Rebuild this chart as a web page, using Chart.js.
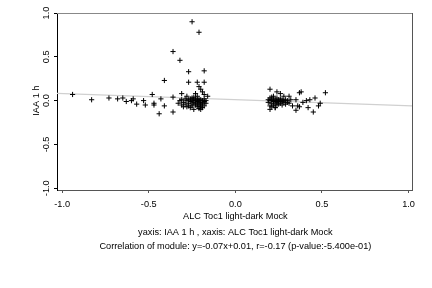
<!DOCTYPE html>
<html>
<head>
<meta charset="utf-8">
<script src="https://cdn.jsdelivr.net/npm/chart.js@4"></script>
<style>
  html, body { margin: 0; padding: 0; background: #fff; }
  canvas { display: block; }
</style>
</head>
<body>
<canvas id="chart" width="432" height="288"></canvas>
<script>
// data
const xValues = [
  -0.94, -0.83, -0.73, -0.68, -0.65, -0.63, -0.60, -0.59, -0.57, -0.53, -0.52, -0.48, -0.47, -0.47, -0.44, -0.43, -0.41, -0.41,
  -0.36, -0.32, -0.36, -0.36, -0.25, -0.21, -0.27, -0.18, -0.27, -0.22, -0.18, -0.31, -0.28, -0.23, -0.21, -0.20, -0.19, -0.18, -0.16,
  -0.33, -0.32, -0.31, -0.31, -0.30, -0.30, -0.29, -0.29, -0.28, -0.28, -0.27, -0.27, -0.27, -0.26, -0.26, -0.26, -0.25, -0.25, -0.25, -0.25,
  -0.24, -0.24, -0.24, -0.24, -0.23, -0.23, -0.23, -0.23, -0.22, -0.22, -0.22, -0.22, -0.22, -0.21, -0.21, -0.21, -0.21, -0.21,
  -0.20, -0.20, -0.20, -0.20, -0.20, -0.19, -0.19, -0.19, -0.19, -0.18, -0.18, -0.18, -0.17, -0.17,
  0.20, 0.24, 0.26, 0.22, 0.28, 0.31, 0.32, 0.37, 0.38, 0.52, 0.46, 0.43, 0.41, 0.39, 0.35, 0.36, 0.35, 0.42, 0.45, 0.48, 0.49, 0.37, 0.33, 0.20, 0.23,
  0.19, 0.19, 0.20, 0.20, 0.20, 0.21, 0.21, 0.21, 0.21, 0.22, 0.22, 0.22, 0.22, 0.23, 0.23, 0.23, 0.24, 0.24, 0.24, 0.24,
  0.25, 0.25, 0.25, 0.26, 0.26, 0.26, 0.27, 0.27, 0.27, 0.28, 0.28, 0.29, 0.29, 0.30, 0.30, 0.31
];
const yValues = [
  0.07, 0.01, 0.03, 0.02, 0.03, -0.01, 0.00, 0.02, -0.04, 0.00, -0.05, 0.07, -0.03, -0.05, -0.15, 0.02, -0.06, 0.23,
  0.56, 0.46, 0.04, -0.13, 0.90, 0.78, 0.33, 0.34, 0.21, 0.21, 0.21, 0.08, 0.05, 0.08, 0.16, 0.13, 0.10, 0.07, 0.05,
  -0.03, 0.00, -0.05, 0.01, -0.07, -0.02, -0.04, 0.02, -0.07, 0.00, -0.03, 0.01, -0.06, -0.08, 0.02, -0.01, 0.03, -0.04, 0.00, -0.06,
  -0.10, -0.02, 0.01, 0.04, -0.05, 0.00, -0.03, 0.02, -0.07, -0.01, 0.01, -0.04, 0.05, -0.06, -0.02, 0.00, -0.09, 0.02,
  -0.03, -0.07, 0.01, -0.10, -0.05, -0.02, 0.00, -0.08, -0.04, -0.01, -0.06, 0.02, -0.03, 0.00,
  0.13, 0.10, 0.08, 0.05, 0.05, 0.05, 0.01, 0.09, 0.10, 0.09, 0.03, 0.01, 0.00, -0.02, 0.01, -0.06, -0.11, -0.08, -0.13, -0.06, -0.03, -0.07, -0.06, -0.10, -0.08,
  -0.02, 0.01, -0.06, 0.00, 0.03, -0.03, 0.01, -0.07, 0.04, -0.01, 0.02, -0.05, 0.00, -0.03, 0.01, -0.08, 0.00, -0.02, 0.03, -0.05,
  -0.01, 0.01, -0.04, 0.00, -0.03, 0.02, -0.01, -0.05, 0.01, -0.02, 0.00, -0.04, 0.01, -0.02, 0.00, -0.03
];

// fitted line end points (as drawn)
const fitX = [-1.03, 1.02];
const fitY = [0.082, -0.061];

const xTicks = [-1.0, -0.5, 0.0, 0.5, 1.0];
const yTicks = [-1.0, -0.5, 0.0, 0.5, 1.0];
const xTickLabels = ['-1.0', '-0.5', '0.0', '0.5', '1.0'];
const yTickLabels = ['-1.0', '-0.5', '0.0', '0.5', '1.0'];

const xTitle = 'ALC Toc1 light-dark Mock';
const yTitle = 'IAA 1 h';
const noteLines = [
  'yaxis: IAA 1 h , xaxis: ALC Toc1 light-dark Mock',
  'Correlation of module: y=-0.07x+0.01, r=-0.17 (p-value:-5.400e-01)'
];

const FONT = '9.2px "Liberation Sans", Arial, sans-serif';

const points = xValues.map((x, i) => ({ x, y: yValues[i] }));
const fitLine = fitX.map((x, i) => ({ x, y: fitY[i] }));

// labels, box and notes drawn by hand
const textPlugin = {
    id: 'textPlugin',
    afterDraw(chart) {
        const { ctx, chartArea: a, scales } = chart;
        const xs = scales.x, ys = scales.y;
        ctx.save();

        // frame
        ctx.lineWidth = 1;
        ctx.strokeStyle = '#888';
        ctx.beginPath();
        ctx.moveTo(a.left, a.top + 0.5);
        ctx.lineTo(a.right + 0.5, a.top + 0.5);
        ctx.stroke();
        ctx.strokeStyle = '#555';
        ctx.beginPath();
        ctx.moveTo(a.right + 0.5, a.top);
        ctx.lineTo(a.right + 0.5, a.bottom + 0.5);
        ctx.stroke();

        ctx.fillStyle = '#000';
        ctx.font = FONT;
        ctx.textAlign = 'center';
        ctx.textBaseline = 'middle';

        const mid = (xs.getPixelForValue(-1) + xs.getPixelForValue(1)) / 2;

        // x tick labels
        xTicks.forEach((v, i) => {
            ctx.fillText(xTickLabels[i], xs.getPixelForValue(v), 204);
        });
        ctx.fillText(xTitle, mid, 216);
        ctx.fillText(noteLines[0], mid, 232);
        ctx.fillText(noteLines[1], mid, 246);

        // y tick labels, rotated
        yTicks.forEach((v, i) => {
            ctx.save();
            ctx.translate(46, ys.getPixelForValue(v));
            ctx.rotate(-Math.PI / 2);
            ctx.fillText(yTickLabels[i], 0, 0);
            ctx.restore();
        });
        ctx.save();
        ctx.translate(36, ys.getPixelForValue(0));
        ctx.rotate(-Math.PI / 2);
        ctx.fillText(yTitle, 0, 0);
        ctx.restore();

        ctx.restore();
    }
};

new Chart(document.getElementById('chart').getContext('2d'), {
    type: 'scatter',
    data: {
        datasets: [
            {
                type: 'line',
                data: fitLine,
                borderColor: '#d0d0d0',
                borderWidth: 1.2,
                pointRadius: 0,
                fill: false,
                order: 2
            },
            {
                data: points,
                pointStyle: 'cross',
                pointRadius: 2.6,
                borderColor: '#000',
                borderWidth: 1,
                backgroundColor: '#000',
                order: 1
            }
        ]
    },
    options: {
        responsive: false,
        animation: false,
        devicePixelRatio: 1,
        layout: { padding: { left: 0, top: 13, right: 20, bottom: 0 } },
        plugins: { legend: { display: false }, tooltip: { enabled: false } },
        scales: {
            x: {
                type: 'linear',
                min: -1.03,
                max: 1.02,
                afterBuildTicks: s => { s.ticks = xTicks.map(v => ({ value: v })); },
                afterFit: s => { s.height = 98; },
                ticks: { display: false },
                grid: { drawOnChartArea: false, drawTicks: true, tickLength: 3, color: '#555' },
                border: { color: '#555', width: 1 }
            },
            y: {
                type: 'linear',
                min: -1.02,
                max: 1.0,
                afterBuildTicks: s => { s.ticks = yTicks.map(v => ({ value: v })); },
                afterFit: s => { s.width = 57; },
                ticks: { display: false },
                grid: { drawOnChartArea: false, drawTicks: true, tickLength: 3, color: '#000' },
                border: { color: '#000', width: 1 }
            }
        }
    },
    plugins: [textPlugin]
});
</script>
</body>
</html>
